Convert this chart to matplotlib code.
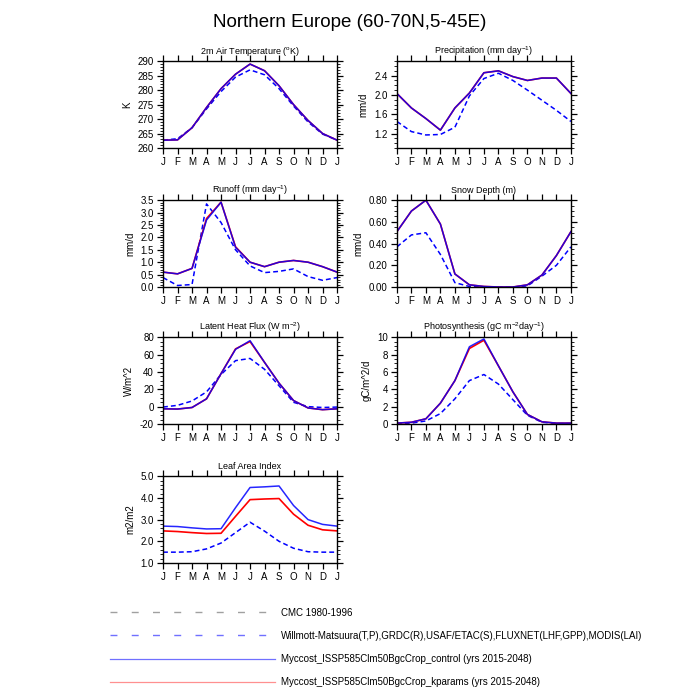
import matplotlib
matplotlib.use('Agg')

import matplotlib.pyplot as plt
from matplotlib.lines import Line2D
from matplotlib.ticker import MultipleLocator, FixedLocator, FormatStrFormatter

plt.rcParams['font.family'] = ['Liberation Sans', 'DejaVu Sans']
plt.rcParams['mathtext.fontset'] = 'custom'
plt.rcParams['mathtext.rm'] = 'Liberation Sans'
plt.rcParams['mathtext.it'] = 'Liberation Sans:italic'
plt.rcParams['lines.scale_dashes'] = False

# ============================================================
# DATA
# ============================================================

months = ['J', 'F', 'M', 'A', 'M', 'J', 'J', 'A', 'S', 'O', 'N', 'D', 'J']
month_idx = list(range(len(months)))

tsa_obs = [262.7, 263.2, 267.0, 273.5, 279.5, 284.5, 287.0, 285.3, 280.5, 274.5, 269.0, 264.8, 262.7]
tsa_ctl = [262.7, 262.8, 267.0, 274.0, 280.5, 285.5, 289.0, 286.7, 281.5, 275.0, 269.5, 265.0, 262.7]
tsa_kp = [262.7, 262.8, 267.0, 274.0, 280.5, 285.5, 289.0, 286.7, 281.5, 275.0, 269.5, 265.0, 262.7]

pre_obs = [1.45, 1.24, 1.17, 1.18, 1.33, 1.98, 2.34, 2.45, 2.30, 2.10, 1.89, 1.68, 1.45]
pre_ctl = [2.03, 1.73, 1.51, 1.27, 1.73, 2.04, 2.46, 2.50, 2.38, 2.30, 2.35, 2.35, 2.03]
pre_kp = [2.03, 1.73, 1.51, 1.27, 1.73, 2.04, 2.46, 2.50, 2.38, 2.30, 2.35, 2.35, 2.03]

ro_obs = [0.38, 0.06, 0.10, 3.35, 2.60, 1.50, 0.85, 0.58, 0.63, 0.73, 0.42, 0.27, 0.38]
ro_ctl = [0.60, 0.53, 0.75, 2.70, 3.42, 1.60, 1.00, 0.82, 1.00, 1.07, 1.00, 0.82, 0.60]
ro_kp = [0.60, 0.53, 0.75, 2.76, 3.42, 1.62, 1.00, 0.82, 1.00, 1.07, 1.00, 0.82, 0.60]

snow_obs = [0.37, 0.48, 0.50, 0.30, 0.04, 0.005, 0.0, 0.0, 0.0, 0.01, 0.10, 0.20, 0.37]
snow_ctl = [0.51, 0.70, 0.80, 0.58, 0.12, 0.02, 0.005, 0.0, 0.0, 0.02, 0.11, 0.29, 0.51]
snow_kp = [0.51, 0.70, 0.80, 0.58, 0.12, 0.02, 0.005, 0.0, 0.0, 0.02, 0.11, 0.29, 0.51]

lhf_obs = [-0.5, 1.5, 6.5, 17.0, 37.0, 53.0, 55.5, 43.0, 24.0, 5.0, 0.0, -1.0, -0.5]
lhf_ctl = [-2.5, -2.8, -1.0, 9.0, 38.0, 66.0, 76.0, 51.0, 27.0, 7.0, -1.5, -3.5, -2.5]
lhf_kp = [-2.5, -2.8, -1.0, 9.0, 38.0, 66.5, 75.0, 51.0, 27.0, 7.0, -1.5, -3.5, -2.5]

gpp_obs = [0.05, 0.10, 0.35, 1.20, 2.90, 5.00, 5.70, 4.60, 2.80, 1.00, 0.20, 0.05, 0.05]
gpp_ctl = [0.10, 0.20, 0.60, 2.40, 5.00, 8.90, 9.80, 6.70, 3.70, 1.10, 0.25, 0.10, 0.10]
gpp_kp = [0.10, 0.20, 0.60, 2.40, 5.00, 8.70, 9.65, 6.70, 3.70, 1.10, 0.25, 0.10, 0.10]

lai_obs = [1.50, 1.50, 1.52, 1.65, 1.92, 2.40, 2.88, 2.47, 2.00, 1.68, 1.52, 1.50, 1.50]
lai_ctl = [2.70, 2.68, 2.62, 2.57, 2.58, 3.55, 4.48, 4.51, 4.55, 3.65, 3.00, 2.78, 2.70]
lai_kp = [2.48, 2.45, 2.40, 2.36, 2.37, 3.15, 3.92, 3.95, 3.97, 3.25, 2.74, 2.53, 2.48]

legend_labels = [
    'CMC 1980-1996',
    'Willmott-Matsuura(T,P),GRDC(R),USAF/ETAC(S),FLUXNET(LHF,GPP),MODIS(LAI)',
    'Myccost_ISSP585Clm50BgcCrop_control (yrs 2015-2048)',
    'Myccost_ISSP585Clm50BgcCrop_kparams (yrs 2015-2048)',
]

# ============================================================
# PANELS
# ============================================================

# (title, ylabel, obs, control, kparams, ylim, major, minor, fmt, position)
panels = [
    (r'2m Air Temperature ($^{\mathrm{o}}$K)', 'K', tsa_obs, tsa_ctl, tsa_kp,
     (260, 290), 5, 1, '%d', (0.2329, 0.7886)),
    (r'Precipitation (mm day$^{-1}$)', 'mm/d', pre_obs, pre_ctl, pre_kp,
     (0.9, 2.7), [1.2, 1.6, 2.0, 2.4], 0.1, '%.1f', (0.567, 0.7886)),
    (r'Runoff (mm day$^{-1}$)', 'mm/d', ro_obs, ro_ctl, ro_kp,
     (0, 3.5), 0.5, 0.1, '%.1f', (0.2329, 0.59)),
    ('Snow Depth (m)', 'mm/d', snow_obs, snow_ctl, snow_kp,
     (0, 0.8), 0.2, 0.05, '%.2f', (0.567, 0.59)),
    (r'Latent Heat Flux (W m$^{-2}$)', 'W/m^2', lhf_obs, lhf_ctl, lhf_kp,
     (-20, 80), 20, 5, '%d', (0.2329, 0.3943)),
    (r'Photosynthesis (gC m$^{-2}$day$^{-1}$)', 'gC/m^2/d', gpp_obs, gpp_ctl, gpp_kp,
     (0, 10), 2, 0.5, '%d', (0.567, 0.3943)),
    ('Leaf Area Index', 'm2/m2', lai_obs, lai_ctl, lai_kp,
     (1, 5), 1, 0.2, '%.1f', (0.2329, 0.1957)),
]

fig = plt.figure(figsize=(7, 7), dpi=100)

fig.text(0.5, 0.968, 'Northern Europe (60-70N,5-45E)', ha='center', va='center', fontsize=13.5)

for title, ylabel, obs, ctl, kp, ylim, major, minor, fmt, pos in panels:

    ax = fig.add_axes([pos[0], pos[1], 0.2486, 0.124])

    ax.plot(month_idx, obs, color='blue', lw=1.1, dashes=(3.5, 2.2))
    ax.plot(month_idx, kp, color='red', lw=1.2)
    ax.plot(month_idx, ctl, color='blue', lw=1.1, alpha=0.85)

    ax.set_xlim(0, 12)
    ax.set_ylim(*ylim)

    ax.set_xticks(month_idx)
    ax.set_xticklabels(months)

    if isinstance(major, list):
        ax.yaxis.set_major_locator(FixedLocator(major))
    else:
        ax.yaxis.set_major_locator(MultipleLocator(major))
    ax.yaxis.set_minor_locator(MultipleLocator(minor))
    ax.yaxis.set_major_formatter(FormatStrFormatter(fmt))

    ax.tick_params(axis='both', which='major', direction='out', length=4.5, width=0.9,
                   labelsize=7, pad=2, top=True, right=True)
    ax.tick_params(axis='y', which='minor', direction='out', length=2.2, width=0.6,
                   right=True)

    for spine in ax.spines.values():
        spine.set_linewidth(1.0)

    ax.set_title(title, fontsize=6.5, pad=5)
    ax.set_ylabel(ylabel, fontsize=7, labelpad=4)

# ============================================================
# LEGEND
# ============================================================

handles = [
    Line2D([], [], color='#a0a0a0', lw=1.0, dashes=(5.0, 10.3)),
    Line2D([], [], color='#7070ff', lw=1.0, dashes=(5.0, 10.3)),
    Line2D([], [], color='#7070ff', lw=0.9),
    Line2D([], [], color='#ff9090', lw=0.9),
]

fig.legend(
    handles,
    legend_labels,
    loc='upper left',
    bbox_to_anchor=(0.157, 0.132),
    frameon=False,
    fontsize=7,
    handlelength=17,
    handletextpad=0.6,
    labelspacing=1.36,
    borderaxespad=0,
    borderpad=0,
)

plt.savefig('out.png', dpi=100)
